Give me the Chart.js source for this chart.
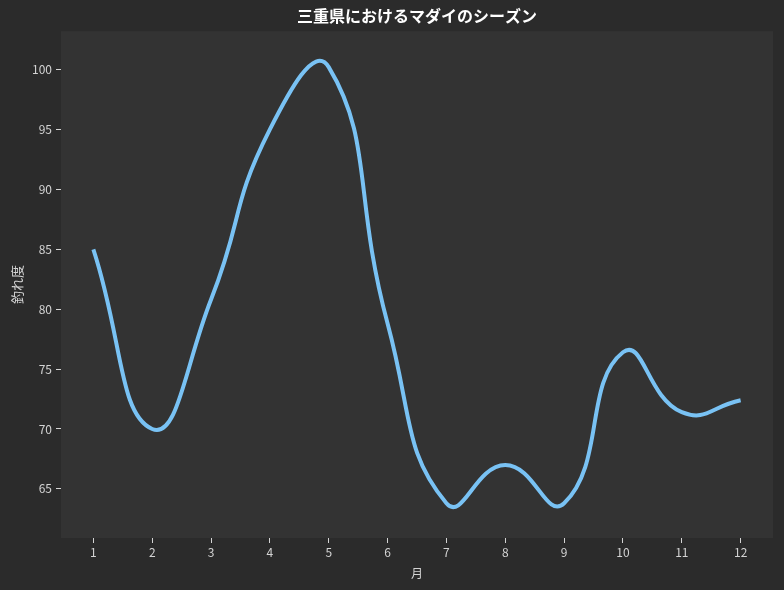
<!DOCTYPE html>
<html>
<head>
<meta charset="utf-8">
<script src="https://cdn.jsdelivr.net/npm/chart.js@4"></script>
<style>
  html, body { margin: 0; padding: 0; background: #2b2b2b; }
  #wrap { width: 784px; height: 590px; }
</style>
</head>
<body>
<div id="wrap"><canvas id="seasonChart" width="784" height="590"></canvas></div>
<script>
// 月ごとの釣れ度
const months = [1, 2, 3, 4, 5, 6, 7, 8, 9, 10, 11, 12];
const catchScore = [85, 70, 80.8, 95, 100.2, 78.8, 63.8, 67, 63.8, 76.4, 71.4, 72.4];
const yTickValues = [65, 70, 75, 80, 85, 90, 95, 100];

const titleText = '三重県におけるマダイのシーズン';
const xTitle = '月';
const yTitle = '釣れ度';

const fontFamily = '"Noto Sans CJK JP", "Noto Sans", sans-serif';

// 背景（外側と描画エリア）
const backgroundPlugin = {
  id: 'bg',
  beforeDraw(chart) {
    const ctx = chart.ctx;
    const a = chart.chartArea;
    ctx.save();
    ctx.fillStyle = '#2b2b2b';
    ctx.fillRect(0, 0, chart.width, chart.height);
    ctx.fillStyle = '#333333';
    ctx.fillRect(a.left, a.top, a.right - a.left, a.bottom - a.top);
    ctx.restore();
  }
};

const ctx = document.getElementById('seasonChart').getContext('2d');
new Chart(ctx, {
  type: 'line',
  data: {
    datasets: [{
      data: months.map((m, i) => ({ x: m, y: catchScore[i] })),
      borderColor: '#79c2f4',
      borderWidth: 4,
      pointRadius: 0,
      tension: 0.5,
      fill: false
    }]
  },
  options: {
    responsive: false,
    animation: false,
    devicePixelRatio: 1,
    layout: { padding: { left: 9, right: 11, top: 0, bottom: 9 } },
    plugins: {
      legend: { display: false },
      tooltip: { enabled: false },
      title: {
        display: true,
        fullSize: false,
        text: titleText,
        color: '#ffffff',
        font: { family: fontFamily, size: 16, weight: 'bold' },
        padding: { top: 6, bottom: 6 }
      }
    },
    scales: {
      x: {
        type: 'linear',
        min: 0.45,
        max: 12.55,
        afterBuildTicks(scale) {
          scale.ticks = months.map(v => ({ value: v }));
        },
        afterFit(scale) { scale.height = 43; },
        ticks: {
          color: '#d4d4d4',
          font: { family: fontFamily, size: 12 },
          padding: 2,
          maxRotation: 0
        },
        grid: { display: true, drawOnChartArea: false, tickLength: 5, color: '#d4d4d4', tickWidth: 1 },
        border: { display: false },
        title: {
          display: true,
          text: xTitle,
          color: '#d4d4d4',
          font: { family: fontFamily, size: 12 },
          padding: { top: 2, bottom: 0 }
        }
      },
      y: {
        type: 'linear',
        min: 60.9,
        max: 103.2,
        afterBuildTicks(scale) {
          scale.ticks = yTickValues.map(v => ({ value: v }));
        },
        afterFit(scale) { scale.width = 52; },
        ticks: {
          color: '#d4d4d4',
          font: { family: fontFamily, size: 12 },
          padding: 4
        },
        grid: { display: true, drawOnChartArea: false, tickLength: 5, color: '#d4d4d4', tickWidth: 1 },
        border: { display: false },
        title: {
          display: true,
          text: yTitle,
          color: '#d4d4d4',
          font: { family: fontFamily, size: 13 },
          padding: { top: 0, bottom: 4 }
        }
      }
    }
  },
  plugins: [backgroundPlugin]
});
</script>
</body>
</html>
